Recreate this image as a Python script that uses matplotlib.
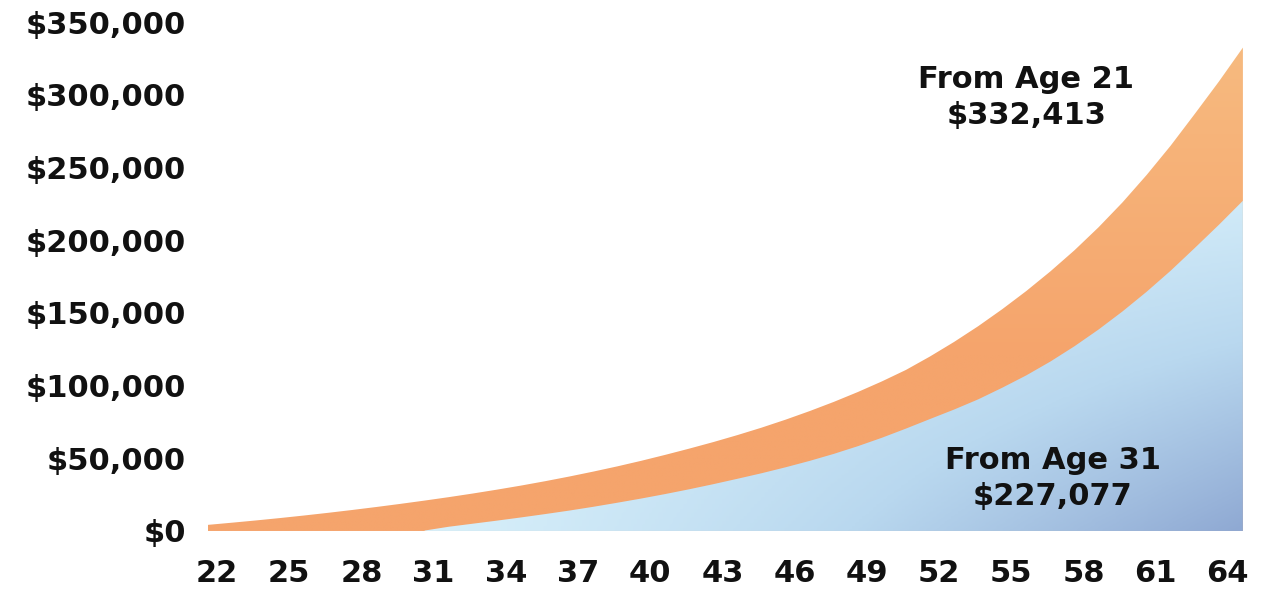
import numpy as np
import matplotlib.pyplot as plt
from matplotlib.colors import LinearSegmentedColormap
from matplotlib.transforms import ScaledTranslation

# balance at each age, saving from age 21
ages_21 = list(range(22, 66))
from_21 = [4200, 5700, 7250, 8900, 10650, 12500, 14450, 16500, 18650, 20900,
           23250, 25750, 28400, 31200, 34200, 37400, 40800, 44400, 48250, 52350,
           56650, 61150, 65950, 71050, 76550, 82450, 88750, 95550, 102850, 110750,
           120000, 130000, 140800, 152500, 165000, 178500, 193000, 208800, 226000, 244800,
           265000, 286800, 309000, 332413]

# balance at each age, saving from age 31
ages_31 = list(range(31, 66))
from_31 = [300, 2900, 5000, 7100, 9300, 11600, 14000, 16600, 19400, 22300,
           25400, 28700, 32200, 35900, 39700, 43800, 48200, 53000, 58300, 64100,
           70400, 77000, 83500, 90500, 98500, 107000, 116500, 127000, 138500, 151000,
           164500, 179000, 194600, 210500, 227077]

xticks = list(range(22, 65, 3))
yticks = list(range(0, 350001, 50000))

labels = ["From Age 21\n${:,}".format(from_21[-1]), "From Age 31\n${:,}".format(from_31[-1])]

fig = plt.figure(figsize=(12.62, 5.93), dpi=100)
ax = fig.add_axes([0.1572, 0.1046, 0.8353, 0.8583])

x0, x1 = 21.6, 65.4
ax.set_xlim(x0, x1)
ax.set_ylim(0, 350000)

gx = np.linspace(0, 1, 300)
gy = np.linspace(0, 1, 300)
X, Y = np.meshgrid(gx, gy)
ya = Y * 350000

# orange band, a touch lighter towards the top
orange = ax.fill_between(ages_21, 0, from_21, color='none', lw=0, zorder=1)
to = np.clip((ya - 120000) / 220000, 0, 1)
ocmap = LinearSegmentedColormap.from_list('peach', ['#f5a46c', '#f7bb80'])
oimg = ax.imshow(to, cmap=ocmap, origin='lower', aspect='auto',
                 extent=[x0, x1, 0, 350000], zorder=1, vmin=0, vmax=1)
oimg.set_clip_path(orange.get_paths()[0], transform=ax.transData)

# blue area, light at the top edge and darker to the lower right
blue = ax.fill_between(ages_31, 0, from_31, color='none', lw=0, zorder=2)
xa = np.clip((X * (x1 - x0) + x0 - 30) / 35, 0, 1)
t = np.clip(xa ** 1.1 * (1 - ya / 260000), 0, 1)
cmap = LinearSegmentedColormap.from_list('sky', ['#d9f1fb', '#b9d8ef', '#8fa9d3'])
img = ax.imshow(t, cmap=cmap, origin='lower', aspect='auto',
                extent=[x0, x1, 0, 350000], zorder=2, vmin=0, vmax=1)
img.set_clip_path(blue.get_paths()[0], transform=ax.transData)

for s in ax.spines.values():
    s.set_visible(False)

tick_font = dict(family='DejaVu Sans', weight='bold', size=22)
ax.set_yticks(yticks)
ax.set_yticklabels(["${:,}".format(v) for v in yticks], **tick_font)
ax.set_xticks(xticks)
ax.set_xticklabels([str(a) for a in xticks], **tick_font)
ax.tick_params(axis='both', length=0, colors='#111111')
ax.tick_params(axis='y', pad=9)
ax.tick_params(axis='x', pad=20)
shift = ScaledTranslation(9 / 100, 0, fig.dpi_scale_trans)
for lab in ax.get_xticklabels():
    lab.set_transform(lab.get_transform() + shift)

ax.text(56.0, 298000, labels[0], ha='center', va='center', fontsize=22,
        fontweight='bold', family='DejaVu Sans', color='#111111', linespacing=1.3, zorder=3)
ax.text(57.1, 36000, labels[1], ha='center', va='center', fontsize=22,
        fontweight='bold', family='DejaVu Sans', color='#111111', linespacing=1.3, zorder=3)

fig.savefig('out.png', dpi=100)
